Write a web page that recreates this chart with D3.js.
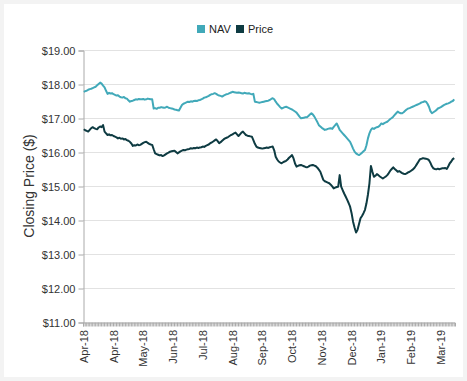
<!DOCTYPE html>
<html>
<head>
<meta charset="utf-8">
<script src="https://cdn.jsdelivr.net/npm/d3@7"></script>
<style>
    body { margin: 0; background: #f3f3f3; font-family: "Liberation Sans", Arial, sans-serif; }
    #chart { position: absolute; left: 0; top: 0; }
</style>
</head>
<body>
<div id="chart"></div>
<script>
//
//  Closing price vs NAV, one point per trading day (Apr-18 .. Mar-19).
//  x is a category axis (index of the trading day), a label every 20 days.
//

var seriesNames = ["NAV", "Price"];
var seriesColors = ["#41a9b9", "#0e3b42"];

var tickLabels = ["Apr-18", "Apr-18", "May-18", "Jun-18", "Jul-18", "Aug-18", "Sep-18",
                  "Oct-18", "Nov-18", "Dec-18", "Jan-19", "Feb-19", "Mar-19"];
var tickEvery = 20;

var yTicks = [11, 12, 13, 14, 15, 16, 17, 18, 19];

var navValues = [
    17.77, 17.79, 17.80, 17.83, 17.85, 17.86, 17.88, 17.90, 17.92, 17.96,
    18.00, 18.04, 18.01, 17.95, 17.90, 17.80, 17.71, 17.74, 17.72, 17.73,
    17.70, 17.68, 17.66, 17.67, 17.63, 17.61, 17.60, 17.62, 17.58, 17.57,
    17.52, 17.48, 17.50, 17.51, 17.53, 17.55, 17.54, 17.56, 17.55, 17.55,
    17.56, 17.54, 17.55, 17.57, 17.56, 17.55, 17.55, 17.28, 17.29, 17.27,
    17.30, 17.30, 17.32, 17.31, 17.30, 17.31, 17.33, 17.30, 17.29, 17.28,
    17.27, 17.25, 17.24, 17.23, 17.22, 17.30, 17.38, 17.42, 17.44, 17.46,
    17.48, 17.47, 17.49, 17.48, 17.50, 17.51, 17.50, 17.52, 17.53, 17.55,
    17.57, 17.60, 17.61, 17.63, 17.65, 17.68, 17.70, 17.71, 17.73, 17.71,
    17.68, 17.66, 17.65, 17.63, 17.66, 17.68, 17.70, 17.71, 17.73, 17.75,
    17.77, 17.76, 17.75, 17.74, 17.75, 17.74, 17.73, 17.72, 17.74, 17.73,
    17.72, 17.73, 17.71, 17.70, 17.71, 17.48, 17.47, 17.46, 17.45, 17.46,
    17.47, 17.48, 17.49, 17.50, 17.51, 17.53, 17.56, 17.58, 17.55, 17.48,
    17.42, 17.37, 17.32, 17.28, 17.30, 17.32, 17.33, 17.31, 17.29, 17.27,
    17.25, 17.22, 17.19, 17.16, 17.10, 17.04, 16.99, 17.00, 17.01, 17.02,
    17.02, 17.06, 17.10, 17.14, 17.10, 17.04, 16.96, 16.88, 16.79, 16.75,
    16.71, 16.68, 16.65, 16.66, 16.68, 16.69, 16.70, 16.68, 16.74, 16.79,
    16.84, 16.75, 16.65, 16.60, 16.55, 16.50, 16.45, 16.40, 16.35, 16.30,
    16.20, 16.10, 16.01, 15.96, 15.93, 15.91, 15.94, 15.98, 16.02, 16.06,
    16.20, 16.40, 16.55, 16.65, 16.70, 16.68, 16.71, 16.73, 16.74, 16.78,
    16.84, 16.82, 16.85, 16.87, 16.89, 16.93, 16.97, 17.00, 17.04, 17.09,
    17.14, 17.19, 17.16, 17.14, 17.14, 17.17, 17.21, 17.25, 17.28, 17.29,
    17.31, 17.33, 17.35, 17.37, 17.39, 17.41, 17.43, 17.46, 17.47, 17.49,
    17.48, 17.42, 17.33, 17.20, 17.14, 17.17, 17.20, 17.23, 17.28, 17.30,
    17.32, 17.35, 17.38, 17.40, 17.42, 17.43, 17.45, 17.48, 17.50, 17.55
];

var priceValues = [
    16.67, 16.64, 16.62, 16.60, 16.65, 16.70, 16.73, 16.70, 16.68, 16.67,
    16.72, 16.75, 16.73, 16.79, 16.60, 16.55, 16.50, 16.52, 16.49, 16.50,
    16.47, 16.45, 16.43, 16.40, 16.42, 16.39, 16.40, 16.37, 16.38, 16.35,
    16.33, 16.30, 16.25, 16.18, 16.20, 16.19, 16.22, 16.20, 16.21, 16.24,
    16.27, 16.29, 16.30, 16.27, 16.24, 16.22, 16.21, 16.08, 15.96, 15.94,
    15.92, 15.90, 15.91, 15.88, 15.90, 15.93, 15.96, 15.98, 16.01, 16.02,
    16.03, 16.04, 16.00, 15.96, 15.99, 16.02, 16.04, 16.06, 16.05, 16.07,
    16.08, 16.09, 16.11, 16.10, 16.12, 16.11, 16.13, 16.12, 16.13, 16.14,
    16.16, 16.15, 16.18, 16.20, 16.22, 16.26, 16.28, 16.31, 16.34, 16.37,
    16.32, 16.26, 16.29, 16.33, 16.37, 16.40, 16.42, 16.44, 16.47, 16.50,
    16.52, 16.55, 16.57, 16.52, 16.47, 16.52, 16.57, 16.60, 16.55, 16.50,
    16.48, 16.47, 16.46, 16.45, 16.35, 16.24, 16.16, 16.13, 16.12, 16.11,
    16.10, 16.11, 16.12, 16.13, 16.12, 16.14, 16.15, 16.16, 16.05, 15.86,
    15.78, 15.72, 15.69, 15.67, 15.70, 15.72, 15.74, 15.78, 15.83, 15.87,
    15.91, 15.81, 15.66, 15.57, 15.59, 15.61, 15.62, 15.60, 15.58, 15.56,
    15.55, 15.57, 15.60, 15.61, 15.62, 15.60, 15.58, 15.54, 15.48, 15.42,
    15.30, 15.18, 15.14, 15.12, 15.10, 15.08, 15.04, 14.99, 14.93, 14.95,
    14.97, 14.98, 15.32, 14.98, 14.88, 14.78, 14.69, 14.60, 14.50, 14.39,
    14.20, 13.95, 13.78, 13.63, 13.71, 13.88, 14.05, 14.12, 14.20, 14.30,
    14.49, 14.75, 15.08, 15.59, 15.42, 15.27, 15.30, 15.35, 15.32, 15.28,
    15.25, 15.22, 15.25, 15.28, 15.32, 15.38, 15.45, 15.50, 15.55, 15.50,
    15.46, 15.42, 15.44, 15.41, 15.38, 15.36, 15.35, 15.37, 15.40, 15.42,
    15.45, 15.48, 15.52, 15.58, 15.65, 15.72, 15.79, 15.80, 15.82, 15.81,
    15.80, 15.79, 15.76, 15.68, 15.58, 15.52, 15.50, 15.49, 15.51, 15.49,
    15.51, 15.52, 15.52, 15.53, 15.50, 15.58, 15.67, 15.72, 15.79, 15.82
];

var width = 467;
var height = 381;
var margin = { left: 83, right: 12, top: 50, bottom: 59 };

var svg = d3.select("#chart").append("svg")
    .attr("width", width)
    .attr("height", height);

    // white card on the grey page
svg.append("rect")
    .attr("x", 4).attr("y", 4)
    .attr("width", width - 8).attr("height", height - 8)
    .attr("fill", "#fff");

var x = d3.scaleBand()
    .domain(d3.range(navValues.length))
    .range([margin.left, width - margin.right]);

var y = d3.scaleLinear()
    .domain([11, 19])
    .range([height - margin.bottom, margin.top]);

    // horizontal grid
svg.append("g")
    .selectAll("line")
    .data(yTicks.slice(1))
    .join("line")
    .attr("x1", margin.left)
    .attr("x2", width - margin.right)
    .attr("y1", function(d) { return Math.round(y(d)) + 0.5; })
    .attr("y2", function(d) { return Math.round(y(d)) + 0.5; })
    .attr("stroke", "#e2e2e2");

    // y axis
var yAxis = svg.append("g")
    .attr("transform", "translate(" + (margin.left + 0.5) + ",0.5)")
    .call(d3.axisLeft(y).tickValues(yTicks).tickSize(5).tickPadding(3)
        .tickFormat(function(d) { return "$" + d3.format(".2f")(d); }));
yAxis.select(".domain").attr("stroke", "#aaa");
yAxis.selectAll(".tick line").attr("stroke", "#aaa");
yAxis.selectAll("text")
    .attr("fill", "#333")
    .style("font-family", "Liberation Sans, Arial, sans-serif")
    .style("font-size", "11px");

svg.append("text")
    .attr("transform", "translate(34," + ((margin.top + height - margin.bottom) / 2) + ") rotate(-90)")
    .attr("text-anchor", "middle")
    .attr("fill", "#333")
    .style("font-size", "14px")
    .text("Closing Price ($)");

    // x axis: a tick for every trading day, a label every tickEvery days
var xAxis = svg.append("g")
    .attr("transform", "translate(0," + (height - margin.bottom + 0.5) + ")")
    .call(d3.axisBottom(x).tickSize(4).tickFormat(""));
xAxis.select(".domain").attr("stroke", "#aaa");
xAxis.selectAll(".tick line").attr("stroke", "#aaa");

svg.append("g")
    .selectAll("text")
    .data(tickLabels)
    .join("text")
    .attr("transform", function(d, i) {
        var cx = x(i * tickEvery) + x.bandwidth() / 2;
        return "translate(" + (cx + 4) + "," + (height - margin.bottom + 8) + ") rotate(-90)";
    })
    .attr("text-anchor", "end")
    .attr("fill", "#333")
    .style("font-size", "11px")
    .text(function(d) { return d; });

    // the two series
var line = d3.line()
    .x(function(d, i) { return x(i) + x.bandwidth() / 2; })
    .y(function(d) { return y(d); });

[navValues, priceValues].forEach(function(values, k) {
    svg.append("path")
        .datum(values)
        .attr("fill", "none")
        .attr("stroke", seriesColors[k])
        .attr("stroke-width", 2)
        .attr("stroke-linejoin", "round")
        .attr("d", line);
});

    // legend, centred above the plot
var legend = svg.append("g").attr("transform", "translate(197,25)");
var legendX = [0, 39];
seriesNames.forEach(function(name, k) {
    var item = legend.append("g").attr("transform", "translate(" + legendX[k] + ",0)");
    item.append("rect")
        .attr("width", 8).attr("height", 8)
        .attr("fill", seriesColors[k]);
    item.append("text")
        .attr("x", 12).attr("y", 8)
        .attr("fill", "#222")
        .style("font-size", "11px")
        .text(name);
});
</script>
</body>
</html>
